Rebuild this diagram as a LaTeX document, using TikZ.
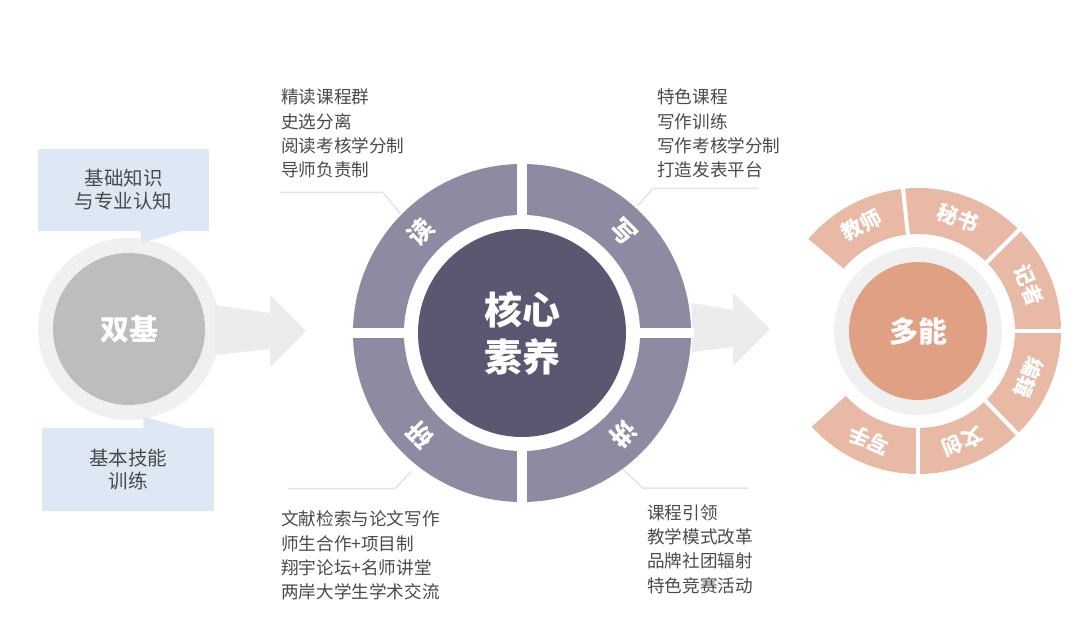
\documentclass[tikz,border=0pt]{standalone}
\usepackage{fontspec}
\setmainfont{Noto Sans CJK SC}
\usepackage{xcolor}
\usetikzlibrary{positioning}

\definecolor{ringgray}{HTML}{F0F0F0}
\definecolor{arrowgray}{HTML}{ECECEC}
\definecolor{basegray}{HTML}{BDBDBD}
\definecolor{boxblue}{HTML}{DEE8F5}
\definecolor{txtgray}{HTML}{4A4A4A}
\definecolor{linegray}{HTML}{E4E4E4}
\definecolor{segpurple}{HTML}{8E8AA2}
\definecolor{corepurple}{HTML}{5A5770}
\definecolor{segpeach}{HTML}{E8B9A4}
\definecolor{corepeach}{HTML}{E0A083}

\begin{document}
\begin{tikzpicture}[x=1pt, y=1pt,
    hub/.style={circle, text=white, inner sep=0pt, align=center},
    note/.style={text=txtgray, align=left, anchor=west, inner sep=0pt, font=\fontsize{17.6}{24.3}\selectfont},
    tipbox/.style={rectangle, fill=boxblue, text=txtgray, align=center, font=\fontsize{19.5}{23}\selectfont},
    callout/.style={draw=linegray, line width=1.5pt},
    seglabel/.style={text=white, inner sep=0pt, font=\bfseries\fontsize{#1}{#1}\selectfont}]

    \useasboundingbox (0,0) rectangle (1080,627);

    % left: shuang ji
    \fill[ringgray] (129,298) circle (91);
    \fill[arrowgray] (215,322) -- (270,314) -- (270,332) -- (306,296) -- (270,260) -- (270,278) -- (215,272) -- cycle;
    \node[hub, fill=basegray, minimum size=152, font=\bfseries\fontsize{29}{34}\selectfont] (basic) at (129,298) {双基};

    \node[tipbox, minimum width=171, minimum height=82] (knowbox) at (123.5,437) {基础知识\\与专业认知};
    \node[tipbox, minimum width=172, minimum height=83] (skillbox) at (128,157.5) {基本技能\\训练};
    \fill[boxblue] ([xshift=16.5]knowbox.south) -- ++(1.7,-11.7) -- ([xshift=58]knowbox.south) -- cycle;
    \fill[boxblue] ([xshift=15.3]skillbox.north) -- ++(0,11) -- ([xshift=57]skillbox.north) -- cycle;

    % middle: core ring
    \fill[arrowgray] (692,324) -- (733,317) -- (733,334) -- (770,298) -- (733,261) -- (733,280) -- (692,275) -- cycle;
    \fill[segpurple] (522,294) circle (169);
    \fill[white] (522,294) circle (118);
    \node[hub, fill=corepurple, minimum size=208, font=\bfseries\fontsize{38}{47}\selectfont] (core) at (522,294) {核心\\素养};
    \begin{scope}[shift={(core.center)}]
        \draw[white, line width=10pt] (0,112) -- (0,172) (0,-112) -- (0,-172);
        \draw[white, line width=10pt] (112,0) -- (172,0) (-112,0) -- (-172,0);
        \node[seglabel=25, rotate=45] (du) at (135:143.5) {读};
        \node[seglabel=25, rotate=-45] (xie) at (45:143.5) {写};
        \node[seglabel=25, rotate=-135] (jiang) at (-45:143.5) {讲};
        \node[seglabel=25, rotate=135] (yan) at (-135:143.5) {研};
    \end{scope}

    \node[note] (readtxt) at (281,493.5) {精读课程群\\史选分离\\阅读考核学分制\\导师负责制};
    \node[note] (writetxt) at (657,493.5) {特色课程\\写作训练\\写作考核学分制\\打造发表平台};
    \node[note] (resrchtxt) at (281,71.5) {文献检索与论文写作\\师生合作+项目制\\翔宇论坛+名师讲堂\\两岸大学生学术交流};
    \node[note] (talktxt) at (647,78) {课程引领\\教学模式改革\\品牌社团辐射\\特色竞赛活动};

    \draw[callout] ([xshift=-1,yshift=-14]readtxt.south west) -- ++(103,0) -- ++(17,-21);
    \draw[callout] ([xshift=101,yshift=-10]writetxt.south west) -- ++(-105,0) -- ++(-15,-17);
    \draw[callout] ([xshift=7,yshift=22]resrchtxt.north west) -- ++(107,0) -- ++(16,17);
    \draw[callout] ([xshift=101,yshift=16]talktxt.north west) -- ++(-105,0) -- ++(-20,19);

    % right: duo neng
    \fill[ringgray] (918,296) circle (84);
    \node[hub, fill=corepeach, minimum size=138, font=\bfseries\fontsize{29}{34}\selectfont] (multi) at (918,296) {多能};
    \begin{scope}[shift={(multi.center)}]
        \foreach \a/\b/\t in {140/96/教师, 96/45/秘书, 45/0/记者, 0/-46/编辑, -46/-90/文创, -90/-138/写手}{
            \fill[segpeach] (\a:143) arc[start angle=\a, end angle=\b, radius=143] -- (\b:97) arc[start angle=\b, end angle=\a, radius=97] -- cycle;
            \node[seglabel=21, rotate={(\a+\b)/2-90}] at ({(\a+\b)/2}:120) {\t};
        }
        \foreach \a in {96, 45, 0, -46, -90}
            \draw[white, line width=4pt] (\a:92) -- (\a:148);
    \end{scope}
\end{tikzpicture}
\end{document}
